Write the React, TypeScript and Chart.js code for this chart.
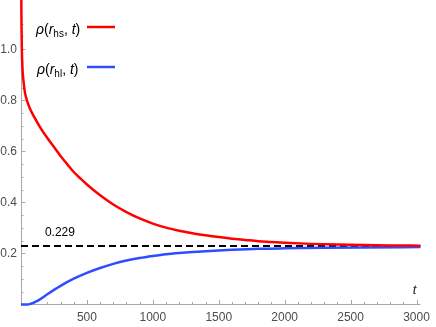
import React, { useEffect, useRef } from "react";
import { Chart, registerables } from "chart.js";

Chart.register(...registerables);

// Red curve rho(r_hs, t)
const T_HS = [0.5, 2, 5, 10, 20, 30, 45, 70, 100, 150, 200, 250, 300, 350, 400, 450, 500, 600, 700, 800, 900, 1000, 1100, 1200, 1300, 1400, 1500, 1600, 1700, 1800, 1900, 2000, 2200, 2400, 2600, 2800, 3030];
const RHO_HS = [1.6, 1.25, 1.05, 0.94, 0.87, 0.83, 0.8, 0.765, 0.735, 0.69, 0.652, 0.617, 0.582, 0.55, 0.519, 0.494, 0.47, 0.428, 0.392, 0.362, 0.337, 0.317, 0.301, 0.289, 0.279, 0.271, 0.264, 0.258, 0.253, 0.248, 0.245, 0.242, 0.2375, 0.2346, 0.2327, 0.2314, 0.2305];

// Blue curve rho(r_hl, t)
const T_HL = [0, 50, 75, 100, 150, 200, 300, 400, 500, 600, 700, 800, 900, 1000, 1100, 1200, 1300, 1400, 1600, 1800, 2000, 2300, 2600, 3030];
const RHO_HL = [0, 0, 0.003, 0.008, 0.022, 0.04, 0.073, 0.101, 0.124, 0.143, 0.159, 0.172, 0.182, 0.19, 0.197, 0.202, 0.206, 0.209, 0.214, 0.218, 0.22, 0.222, 0.2235, 0.225];

// Equilibrium level
const EQ_T = [0, 3030];
const EQ_VALUE = 0.229;
const EQ_LABEL = "0.229";

const X_TICKS = [500, 1000, 1500, 2000, 2500, 3000];
const X_MINOR_STEP = 100;
const Y_TICKS = [0.2, 0.4, 0.6, 0.8, 1.0];
const Y_MINOR_STEP = 0.05;
const X_MIN = 0;
const X_MAX = 3030;
const Y_MIN = 0;
const Y_MAX = 1.149;

const RED = "#ff0000";
const BLUE = "#2f4dff";
const AXIS = "#a8a8a8";
const TICK_TEXT = "#4d4d4d";
const FONT = "'Liberation Sans', Arial, sans-serif";

function drawLegendLabel(ctx: CanvasRenderingContext2D, x: number, y: number, sub: string) {
  const parts: [string, string, number][] = [
    ["ρ", `italic 14px ${FONT}`, 0],
    ["(", `14px ${FONT}`, 0],
    ["r", `italic 14px ${FONT}`, 0],
    [sub, `10px ${FONT}`, 3],
    [", ", `14px ${FONT}`, 0],
    ["t", `italic 14px ${FONT}`, 0],
    [")", `14px ${FONT}`, 0],
  ];
  let cx = x;
  ctx.textAlign = "left";
  ctx.textBaseline = "alphabetic";
  ctx.fillStyle = "#000";
  for (const [txt, font, dy] of parts) {
    ctx.font = font;
    ctx.fillText(txt, cx, y + dy);
    cx += ctx.measureText(txt).width;
  }
}

const axesPlugin = {
  id: "mmaAxes",
  beforeDatasetsDraw(chart: any) {
    const { ctx, chartArea, scales } = chart;
    const xs = scales.x;
    const ys = scales.y;
    const x0 = chartArea.left;
    const y0 = ys.getPixelForValue(0);
    ctx.save();
    ctx.strokeStyle = AXIS;
    ctx.lineWidth = 1;
    ctx.beginPath();
    ctx.moveTo(x0 + 0.5, chartArea.top);
    ctx.lineTo(x0 + 0.5, y0);
    ctx.moveTo(x0, y0);
    ctx.lineTo(chartArea.right, y0);
    ctx.stroke();
    ctx.beginPath();
    for (let v = X_MINOR_STEP; v <= X_MAX; v += X_MINOR_STEP) {
      const px = Math.round(xs.getPixelForValue(v)) + 0.5;
      const major = X_TICKS.includes(v);
      ctx.moveTo(px, y0);
      ctx.lineTo(px, y0 - (major ? 4.5 : 2.5));
    }
    for (let i = 1; i * Y_MINOR_STEP <= Y_MAX; i++) {
      const v = i * Y_MINOR_STEP;
      const py = Math.round(ys.getPixelForValue(v)) + 0.5;
      const major = i % 4 === 0;
      ctx.moveTo(x0, py);
      ctx.lineTo(x0 + (major ? 4.5 : 2.5), py);
    }
    ctx.stroke();
    ctx.restore();
  },
  afterDraw(chart: any) {
    const { ctx, scales } = chart;
    const xs = scales.x;
    const ys = scales.y;
    ctx.save();
    drawLegendLabel(ctx, 36, 34, "hs");
    drawLegendLabel(ctx, 37, 74, "hl");
    ctx.lineWidth = 2.5;
    ctx.strokeStyle = RED;
    ctx.beginPath();
    ctx.moveTo(87, 27);
    ctx.lineTo(115, 27);
    ctx.stroke();
    ctx.strokeStyle = BLUE;
    ctx.beginPath();
    ctx.moveTo(87, 67);
    ctx.lineTo(115, 67);
    ctx.stroke();
    ctx.fillStyle = "#000";
    ctx.font = `12px ${FONT}`;
    ctx.textAlign = "center";
    ctx.textBaseline = "middle";
    ctx.fillText(EQ_LABEL, xs.getPixelForValue(295), ys.getPixelForValue(EQ_VALUE) - 13);
    ctx.font = `italic 13px ${FONT}`;
    ctx.fillStyle = "#222";
    ctx.fillText("t", xs.getPixelForValue(2985), ys.getPixelForValue(0) - 14);
    ctx.restore();
  },
};

export default function App() {
  const ref = useRef<HTMLCanvasElement | null>(null);
  useEffect(() => {
    if (!ref.current) return;
    const chart = new Chart(ref.current, {
      type: "line",
      data: {
        datasets: [
          {
            label: "rho(r_hs, t)",
            data: T_HS.map((t, i) => ({ x: t, y: RHO_HS[i] })),
            borderColor: RED,
            borderWidth: 2.5,
            pointRadius: 0,
            cubicInterpolationMode: "monotone",
            clip: false,
          },
          {
            label: "rho(r_hl, t)",
            data: T_HL.map((t, i) => ({ x: t, y: RHO_HL[i] })),
            borderColor: BLUE,
            borderWidth: 2.5,
            pointRadius: 0,
            cubicInterpolationMode: "monotone",
            clip: false,
          },
          {
            label: "equilibrium",
            data: EQ_T.map((t) => ({ x: t, y: EQ_VALUE })),
            borderColor: "#000",
            borderWidth: 2,
            borderDash: [7, 4],
            pointRadius: 0,
          },
        ],
      },
      options: {
        animation: false,
        responsive: false,
        layout: { padding: { left: 0, right: 14, top: 0, bottom: 0 } },
        plugins: { legend: { display: false }, tooltip: { enabled: false } },
        scales: {
          x: {
            type: "linear",
            min: X_MIN,
            max: X_MAX,
            grid: { display: false, drawTicks: false },
            border: { display: false },
            afterBuildTicks: (s: any) => {
              s.ticks = X_TICKS.map((v) => ({ value: v }));
            },
            afterFit: (s: any) => {
              s.height = 22.5;
            },
            ticks: {
              autoSkip: false,
              maxRotation: 0,
              padding: 6,
              color: TICK_TEXT,
              font: { family: FONT, size: 12 },
              callback: (v: any) => String(v),
            },
          },
          y: {
            type: "linear",
            min: Y_MIN,
            max: Y_MAX,
            grid: { display: false, drawTicks: false },
            border: { display: false },
            afterBuildTicks: (s: any) => {
              s.ticks = Y_TICKS.map((v) => ({ value: v }));
            },
            afterFit: (s: any) => {
              s.width = 21;
            },
            ticks: {
              padding: 4,
              color: TICK_TEXT,
              font: { family: FONT, size: 12 },
              callback: (v: any) => Number(v).toFixed(1),
            },
          },
        },
      },
      plugins: [axesPlugin],
    } as any);
    return () => chart.destroy();
  }, []);
  return (
    <div style={{ position: "fixed", left: 0, top: 0, width: 436, height: 327, background: "#fff" }}>
      <canvas ref={ref} width={436} height={327} style={{ width: 436, height: 327, display: "block" }} />
    </div>
  );
}
